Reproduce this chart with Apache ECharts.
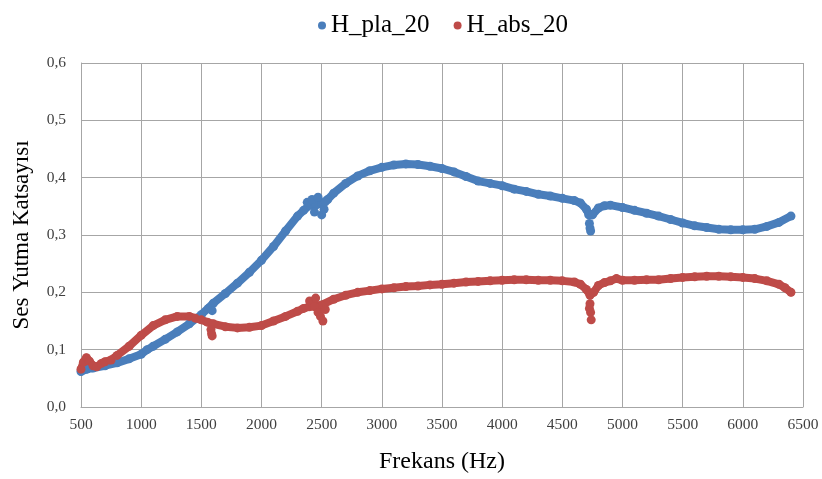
<!DOCTYPE html>
<html>
<head>
<meta charset="utf-8">
<script src="https://cdn.jsdelivr.net/npm/echarts@6/dist/echarts.min.js"></script>
<style>
  html, body { margin: 0; padding: 0; background: #fff; }
  #chart { width: 822px; height: 479px; }
</style>
</head>
<body>
<div id="chart"></div>
<script>
// Frequency (Hz) and absorption coefficient, main trace of each sample
const plaFreq = [500, 550, 600, 700, 800, 900, 1000, 1050, 1100, 1200, 1300, 1400, 1500, 1600, 1700, 1800, 1900, 2000, 2100, 2200, 2300, 2350, 2400, 2450, 2500, 2550, 2600, 2700, 2800, 2900, 3000, 3100, 3200, 3300, 3400, 3500, 3600, 3700, 3800, 3900, 4000, 4100, 4200, 4300, 4400, 4500, 4600, 4650, 4700, 4720, 4750, 4800, 4850, 4900, 5000, 5100, 5200, 5300, 5400, 5500, 5600, 5700, 5800, 5900, 6000, 6100, 6200, 6300, 6400];
const plaVals = [0.062, 0.066, 0.068, 0.072, 0.077, 0.084, 0.092, 0.100, 0.106, 0.118, 0.131, 0.145, 0.161, 0.181, 0.198, 0.216, 0.235, 0.256, 0.280, 0.307, 0.333, 0.343, 0.352, 0.352, 0.355, 0.362, 0.373, 0.390, 0.403, 0.412, 0.418, 0.422, 0.424, 0.423, 0.420, 0.416, 0.410, 0.402, 0.394, 0.390, 0.386, 0.380, 0.376, 0.371, 0.368, 0.364, 0.360, 0.356, 0.345, 0.335, 0.335, 0.347, 0.351, 0.352, 0.348, 0.343, 0.338, 0.333, 0.327, 0.321, 0.316, 0.313, 0.310, 0.309, 0.309, 0.310, 0.315, 0.322, 0.333];

const absFreq = [500, 520, 545, 570, 600, 630, 670, 700, 750, 800, 900, 1000, 1100, 1200, 1300, 1400, 1450, 1500, 1550, 1600, 1700, 1800, 1900, 2000, 2100, 2200, 2300, 2350, 2400, 2500, 2600, 2700, 2800, 2900, 3000, 3100, 3200, 3300, 3400, 3500, 3600, 3700, 3800, 3900, 4000, 4100, 4200, 4300, 4400, 4500, 4600, 4650, 4700, 4730, 4760, 4800, 4850, 4900, 4950, 5000, 5100, 5200, 5300, 5400, 5500, 5600, 5700, 5800, 5900, 6000, 6100, 6200, 6300, 6350, 6400];
const absVals = [0.066, 0.078, 0.086, 0.080, 0.072, 0.070, 0.076, 0.079, 0.082, 0.090, 0.106, 0.125, 0.142, 0.152, 0.158, 0.158, 0.155, 0.152, 0.148, 0.145, 0.140, 0.138, 0.139, 0.142, 0.150, 0.158, 0.167, 0.172, 0.175, 0.178, 0.188, 0.195, 0.200, 0.203, 0.206, 0.208, 0.210, 0.211, 0.213, 0.214, 0.216, 0.218, 0.219, 0.220, 0.221, 0.222, 0.222, 0.221, 0.221, 0.220, 0.218, 0.214, 0.205, 0.195, 0.200, 0.212, 0.217, 0.220, 0.224, 0.221, 0.221, 0.222, 0.222, 0.224, 0.226, 0.227, 0.228, 0.228, 0.227, 0.226, 0.224, 0.220, 0.214, 0.208, 0.200];

// Scattered readings (resonance dips and noisy clusters)
const plaExtraFreq = [1560, 1590, 2380, 2420, 2440, 2470, 2500, 2520, 2530, 4725, 4730, 4735];
const plaExtraVals = [0.172, 0.168, 0.357, 0.362, 0.340, 0.366, 0.335, 0.345, 0.358, 0.320, 0.312, 0.307];
const absExtraFreq = [1580, 1585, 1590, 2400, 2440, 2450, 2470, 2490, 2510, 2530, 4725, 4730, 4735, 4740];
const absExtraVals = [0.135, 0.128, 0.124, 0.185, 0.175, 0.190, 0.165, 0.158, 0.150, 0.170, 0.172, 0.180, 0.165, 0.152];

// Axis ticks
const xMin = 500, xMax = 6500, xStep = 500;
const yMin = 0, yMax = 0.6, yStep = 0.1;

const BLUE = '#4a7ebb';
const RED = '#be4b48';
const SERIF = '"Liberation Serif", "Times New Roman", serif';
const MARK = 9;

const zip = (xs, ys) => xs.map((x, i) => [x, ys[i]]);

const traceSeries = (name, color, xs, ys) => ({
  name, type: 'line', data: zip(xs, ys),
  symbol: 'circle', symbolSize: MARK, showSymbol: true, showAllSymbol: true,
  itemStyle: { color, opacity: 1 }, lineStyle: { color, width: 8, cap: 'round', join: 'round' },
  emphasis: { disabled: true }, z: 2
});
const extraSeries = (name, color, xs, ys) => ({
  name, type: 'scatter', data: zip(xs, ys),
  symbol: 'circle', symbolSize: MARK, itemStyle: { color, opacity: 1 },
  emphasis: { disabled: true }, z: 3
});

const chart = echarts.init(document.getElementById('chart'), null, { renderer: 'canvas' });
chart.setOption({
  animation: false,
  backgroundColor: '#fff',
  legend: {
    data: [{ name: 'H_pla_20', icon: 'circle' }, { name: 'H_abs_20', icon: 'circle' }],
    left: 313, top: 8, itemWidth: 8, itemHeight: 8, itemGap: 24,
    textStyle: { fontFamily: SERIF, fontSize: 25, color: '#000' }
  },
  grid: { left: 81, right: 19, top: 63, bottom: 68 },
  xAxis: {
    type: 'value', min: xMin, max: xMax, interval: xStep,
    name: 'Frekans (Hz)', nameLocation: 'middle', nameGap: 43,
    nameTextStyle: { fontFamily: SERIF, fontSize: 24, color: '#000' },
    axisLine: { lineStyle: { color: '#a6a6a6', width: 1 } },
    axisTick: { show: false },
    axisLabel: { fontFamily: SERIF, fontSize: 15.5, color: '#404040', margin: 10, formatter: v => String(v) },
    splitLine: { show: true, lineStyle: { color: '#a6a6a6', width: 1 } }
  },
  yAxis: {
    type: 'value', min: yMin, max: yMax, interval: yStep,
    name: 'Ses Yutma Katsayısı', nameLocation: 'middle', nameGap: 48,
    nameTextStyle: { fontFamily: SERIF, fontSize: 23, color: '#000' },
    axisLine: { show: true, lineStyle: { color: '#a6a6a6', width: 1 } },
    axisTick: { show: false },
    axisLabel: {
      fontFamily: SERIF, fontSize: 15.5, color: '#404040', margin: 15,
      formatter: v => v.toFixed(1).replace('.', ',')
    },
    splitLine: { show: true, lineStyle: { color: '#a6a6a6', width: 1 } }
  },
  series: [
    traceSeries('H_pla_20', BLUE, plaFreq, plaVals),
    extraSeries('H_pla_20', BLUE, plaExtraFreq, plaExtraVals),
    traceSeries('H_abs_20', RED, absFreq, absVals),
    extraSeries('H_abs_20', RED, absExtraFreq, absExtraVals)
  ]
});
</script>
</body>
</html>
